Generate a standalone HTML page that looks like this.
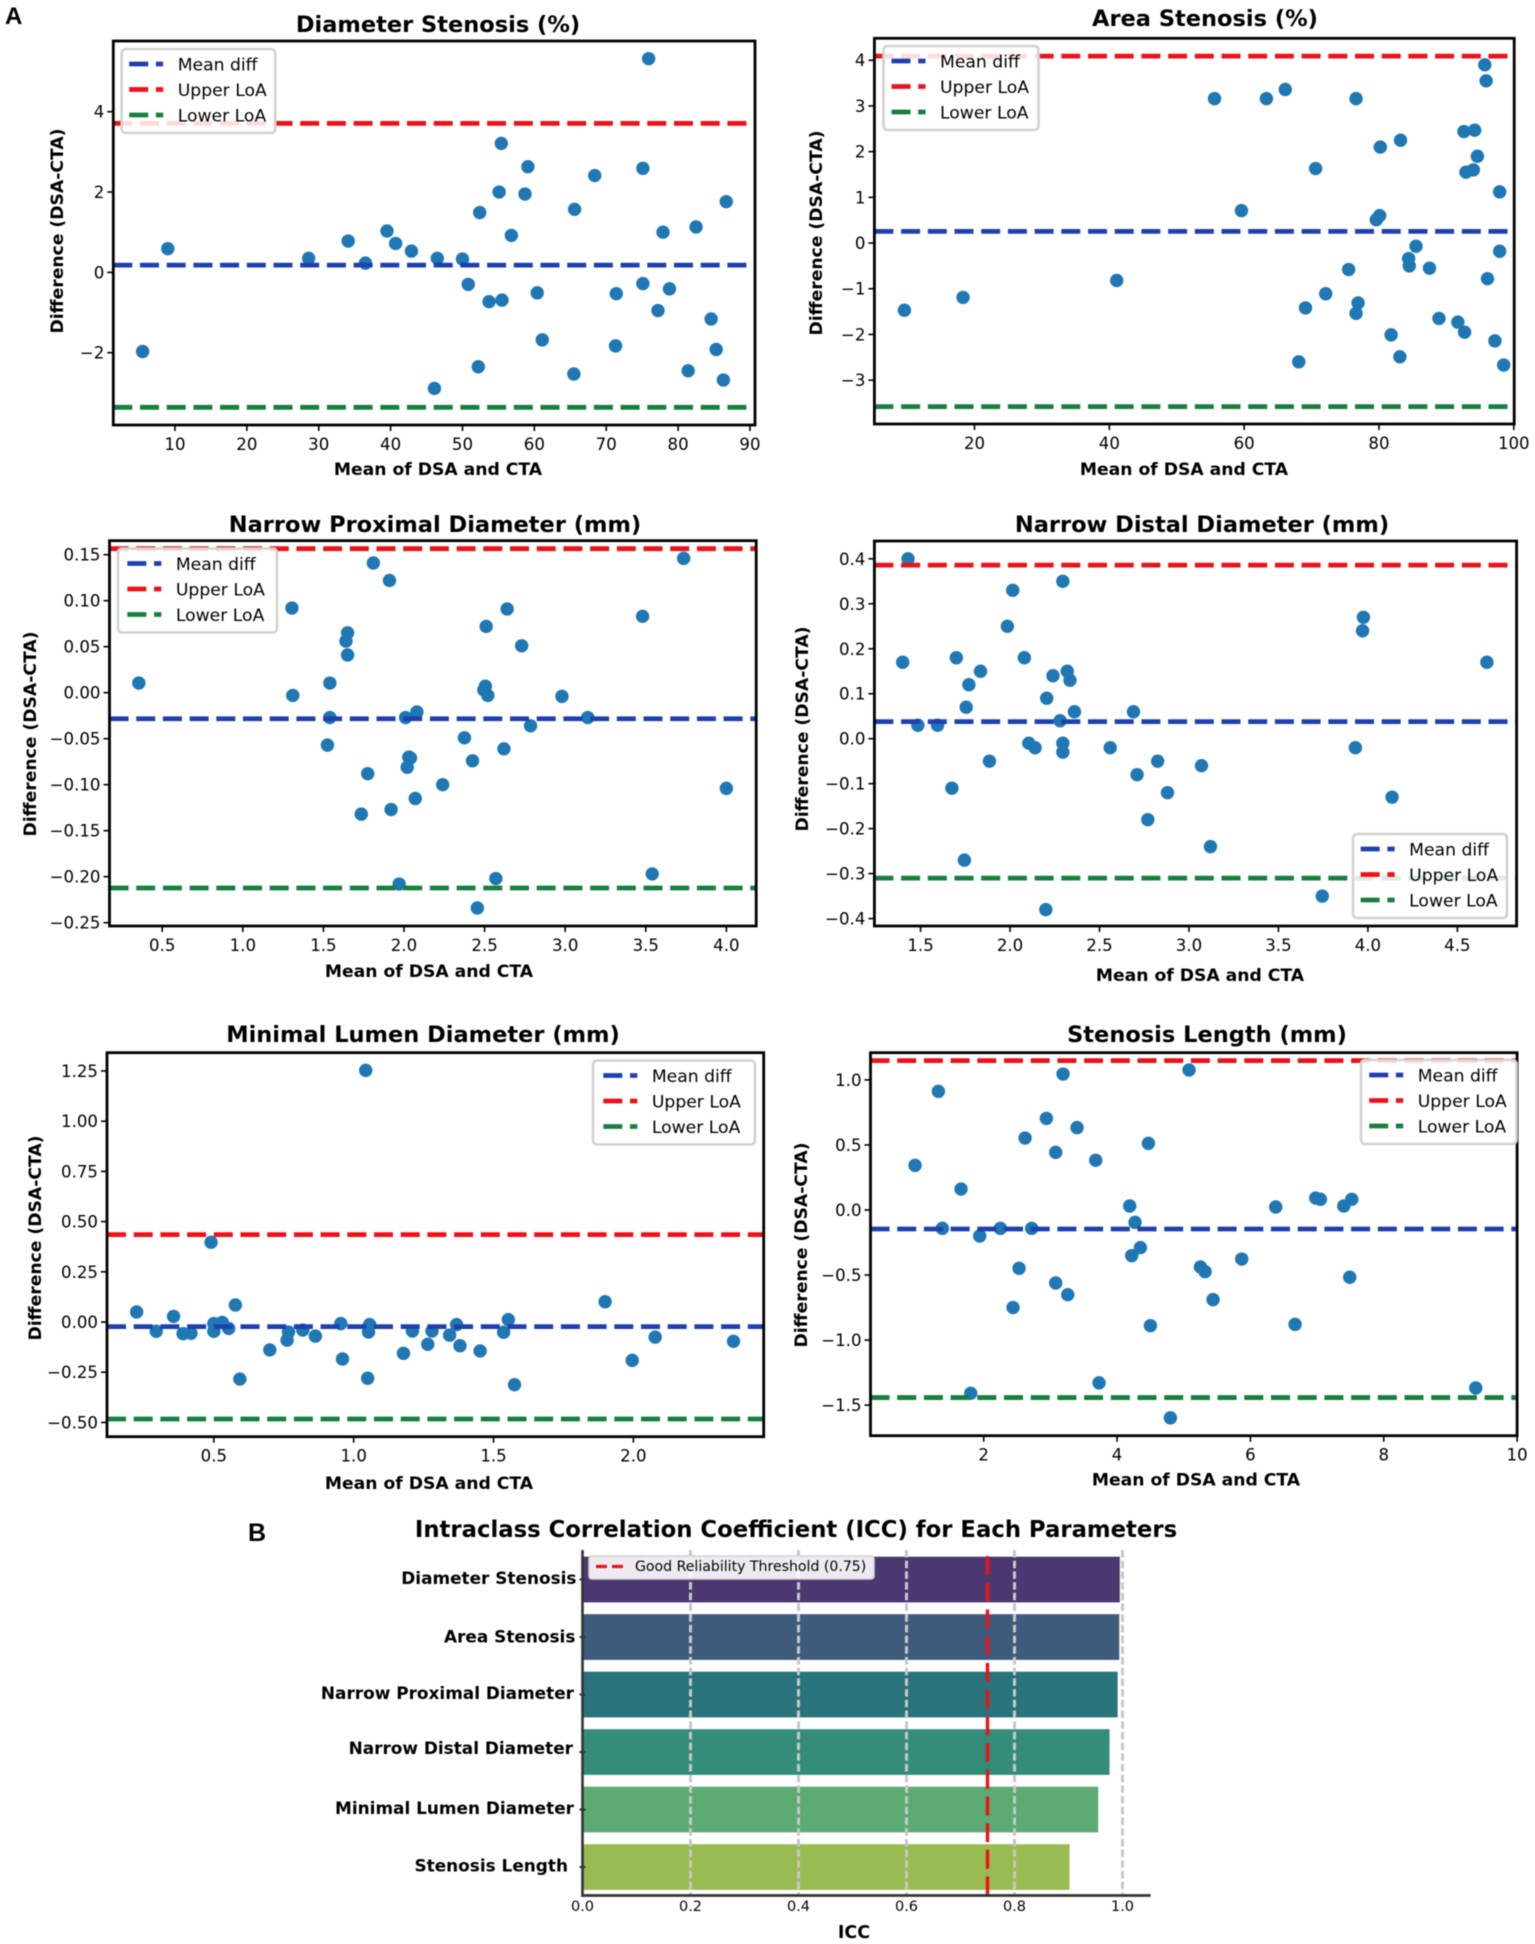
<!DOCTYPE html>
<html lang="en">
<head>
<meta charset="utf-8">
<title>Bland-Altman plots and ICC chart</title>
<style>
html,body{margin:0;padding:0;background:#fff;}
svg{display:block;filter:blur(0.4px);}
text{font-family:"DejaVu Sans","Liberation Sans",sans-serif;fill:#000;}
</style>
</head>
<body>
<svg id="figure" xmlns="http://www.w3.org/2000/svg" width="1535" height="1944" viewBox="0 0 1535 1944">
  <text x="5" y="24" style="font-family:'Liberation Sans',sans-serif;font-weight:700;font-size:24px">A</text>
  <text x="248" y="1541" style="font-family:'Liberation Sans',sans-serif;font-weight:700;font-size:25px">B</text>
</svg>
<script>
// ---------- Panel data ----------
const diameterMeans = [5.5,9.0,28.6,34.1,36.5,39.5,40.7,42.9,46.1,46.5,50.0,50.8,52.2,52.4,53.7,55.4,55.1,55.5,56.8,58.7,59.1,60.4,61.1,65.5,65.6,68.4,71.3,71.4,75.1,75.1,75.9,77.2,77.9,78.8,81.4,82.5,84.6,85.3,86.3,86.7];
const diameterDiffs = [-1.97,0.59,0.35,0.78,0.23,1.03,0.72,0.53,-2.89,0.35,0.33,-0.30,-2.35,1.49,-0.73,3.21,2.0,-0.69,0.92,1.95,2.63,-0.51,-1.68,-2.53,1.57,2.41,-1.83,-0.53,2.59,-0.28,5.32,-0.95,1.0,-0.41,-2.45,1.13,-1.16,-1.92,-2.68,1.76];
const diameterLoA = [0.18,3.71,-3.36];
const diameterXTicks = [10,20,30,40,50,60,70,80,90];
const diameterYTicks = [-2,0,2,4];

const areaMeans = [9.6,18.3,41.1,55.6,59.6,63.3,66.1,68.1,69.1,70.6,72.1,75.5,76.6,76.6,76.9,79.6,80.1,80.2,81.8,83.1,83.2,84.4,84.5,85.5,87.5,88.9,91.7,92.6,92.7,92.9,94.0,94.2,94.6,95.7,95.9,96.1,97.2,97.9,97.9,98.5];
const areaDiffs = [-1.47,-1.19,-0.82,3.16,0.71,3.16,3.36,-2.6,-1.42,1.63,-1.11,-0.58,3.16,-1.54,-1.31,0.51,0.6,2.1,-2.01,-2.49,2.25,-0.34,-0.5,-0.07,-0.55,-1.65,-1.73,2.44,-1.95,1.55,1.6,2.47,1.9,3.9,3.55,-0.78,-2.14,-0.18,1.12,-2.67];
const areaLoA = [0.255,4.09,-3.58];
const areaXTicks = [20,40,60,80,100];
const areaYTicks = [-3,-2,-1,0,1,2,3,4];

const proximalMeans = [0.355,1.305,1.31,1.54,1.54,1.525,1.65,1.64,1.65,1.81,1.91,1.775,1.735,1.92,1.97,2.01,2.08,2.04,2.03,2.02,2.07,2.24,2.375,2.425,2.455,2.495,2.505,2.51,2.52,2.57,2.62,2.64,2.73,2.785,2.98,3.14,3.48,3.54,3.735,4.0];
const proximalDiffs = [0.0105,0.092,-0.003,0.0105,-0.027,-0.057,0.065,0.056,0.041,0.141,0.122,-0.088,-0.132,-0.127,-0.208,-0.027,-0.021,-0.071,-0.07,-0.081,-0.115,-0.10,-0.049,-0.074,-0.234,0.003,0.007,0.072,-0.003,-0.202,-0.061,0.091,0.051,-0.036,-0.004,-0.027,0.083,-0.197,0.146,-0.104];
const proximalLoA = [-0.0283,0.1565,-0.2123];
const proximalXTicks = [0.5,1.0,1.5,2.0,2.5,3.0,3.5,4.0];
const proximalYTicks = [-0.25,-0.20,-0.15,-0.10,-0.05,0,0.05,0.10,0.15];

const distalMeans = [1.43,1.40,1.485,1.595,1.675,1.70,1.745,1.755,1.77,1.835,1.885,1.985,2.015,2.08,2.105,2.14,2.20,2.205,2.24,2.28,2.295,2.295,2.295,2.32,2.335,2.36,2.56,2.69,2.71,2.77,2.825,2.88,3.07,3.12,3.745,3.93,3.97,3.975,4.135,4.665];
const distalDiffs = [0.40,0.17,0.03,0.03,-0.11,0.18,-0.27,0.07,0.12,0.15,-0.05,0.25,0.33,0.18,-0.01,-0.02,-0.38,0.09,0.14,0.04,0.35,-0.01,-0.03,0.15,0.13,0.06,-0.02,0.06,-0.08,-0.18,-0.05,-0.12,-0.06,-0.24,-0.35,-0.02,0.24,0.27,-0.13,0.17];
const distalLoA = [0.038,0.386,-0.31];
const distalXTicks = [1.5,2.0,2.5,3.0,3.5,4.0,4.5];
const distalYTicks = [-0.4,-0.3,-0.2,-0.1,0,0.1,0.2,0.3,0.4];

const lumenMeans = [0.224,0.294,0.356,0.39,0.418,0.49,0.50,0.50,0.53,0.553,0.577,0.593,0.70,0.762,0.767,0.818,0.863,0.954,0.96,1.043,1.05,1.053,1.057,1.178,1.21,1.265,1.28,1.343,1.368,1.38,1.452,1.536,1.553,1.575,1.899,1.996,2.078,2.358];
const lumenDiffs = [0.05,-0.046,0.028,-0.058,-0.056,0.397,-0.046,-0.008,-0.002,-0.032,0.085,-0.284,-0.139,-0.09,-0.05,-0.04,-0.07,-0.008,-0.184,1.253,-0.28,-0.05,-0.013,-0.156,-0.045,-0.111,-0.045,-0.065,-0.013,-0.118,-0.144,-0.051,0.012,-0.312,0.101,-0.191,-0.075,-0.096];
const lumenLoA = [-0.023,0.435,-0.483];
const lumenXTicks = [0.5,1.0,1.5,2.0];
const lumenYTicks = [-0.50,-0.25,0,0.25,0.50,0.75,1.00,1.25];

const lengthMeans = [0.97,1.32,1.38,1.66,1.805,1.94,2.25,2.44,2.53,2.62,2.72,2.94,3.08,3.08,3.19,3.26,3.40,3.68,3.73,4.19,4.22,4.27,4.35,4.47,4.50,4.80,5.08,5.25,5.32,5.44,5.87,6.38,6.67,6.98,7.05,7.40,7.49,7.52,9.38];
const lengthDiffs = [0.343,0.912,-0.141,0.161,-1.409,-0.20,-0.141,-0.75,-0.448,0.553,-0.141,0.704,0.443,-0.561,1.045,-0.651,0.633,0.382,-1.329,0.031,-0.351,-0.095,-0.289,0.512,-0.889,-1.598,1.076,-0.438,-0.474,-0.689,-0.377,0.023,-0.879,0.092,0.082,0.031,-0.517,0.082,-1.368];
const lengthLoA = [-0.146,1.148,-1.442];
const lengthXTicks = [2,4,6,8,10];
const lengthYTicks = [-1.5,-1.0,-0.5,0,0.5,1.0];

const legendLabels = ['Mean diff','Upper LoA','Lower LoA'];

// ---------- ICC bar chart data ----------
const iccCategories = ['Diameter Stenosis','Area Stenosis','Narrow Proximal Diameter','Narrow Distal Diameter','Minimal Lumen Diameter','Stenosis Length'];
const iccValues = [0.995,0.994,0.991,0.976,0.955,0.902];
const iccTicks = [0,0.2,0.4,0.6,0.8,1.0];
const iccThreshold = [0.75];

// ---------- Layout ----------
const lineColors = ['#1e40af','#ee1119','#15803d'];
const barColors = ['#4b3870','#3e5b7c','#29737c','#338d79','#5bab72','#98bc52'];
const panels = [
  {id:'diameter-stenosis',title:'Diameter Stenosis (%)',xs:diameterMeans,ys:diameterDiffs,loa:diameterLoA,xTicks:diameterXTicks,yTicks:diameterYTicks,xDec:0,yDec:0,
   left:113.3,right:755,top:41,bottom:425,xMin:1.42,xMax:90.7,yMin:-3.80,yMax:5.76,titleX:438,titleY:32,xLabX:438,xLabY:475,yLabX:63,yLabY:231,legX:121.7,legY:49,legW:153.5,legH:84},
  {id:'area-stenosis',title:'Area Stenosis (%)',xs:areaMeans,ys:areaDiffs,loa:areaLoA,xTicks:areaXTicks,yTicks:areaYTicks,xDec:0,yDec:0,
   left:874.4,right:1514.2,top:38.3,bottom:424,xMin:5.15,xMax:100.06,yMin:-3.96,yMax:4.48,titleX:1205,titleY:26,xLabX:1184,xLabY:475,yLabX:822,yLabY:233,legX:883.5,legY:46,legW:155,legH:84},
  {id:'narrow-proximal-diameter',title:'Narrow Proximal Diameter (mm)',xs:proximalMeans,ys:proximalDiffs,loa:proximalLoA,xTicks:proximalXTicks,yTicks:proximalYTicks,xDec:1,yDec:2,
   left:109.5,right:756.2,top:540.7,bottom:926,xMin:0.173,xMax:4.185,yMin:-0.2536,yMax:0.1652,titleX:435,titleY:532,xLabX:429,xLabY:977,yLabX:36,yLabY:734,legX:118,legY:548.5,legW:159,legH:84},
  {id:'narrow-distal-diameter',title:'Narrow Distal Diameter (mm)',xs:distalMeans,ys:distalDiffs,loa:distalLoA,xTicks:distalXTicks,yTicks:distalYTicks,xDec:1,yDec:1,
   left:874.4,right:1516.6,top:541,bottom:926,xMin:1.242,xMax:4.831,yMin:-0.4165,yMax:0.4396,titleX:1202,titleY:532,xLabX:1200,xLabY:981,yLabX:808,yLabY:729,legX:1353,legY:834,legW:154,legH:84},
  {id:'minimal-lumen-diameter',title:'Minimal Lumen Diameter (mm)',xs:lumenMeans,ys:lumenDiffs,loa:lumenLoA,xTicks:lumenXTicks,yTicks:lumenYTicks,xDec:1,yDec:2,
   left:107,right:763.7,top:1052.7,bottom:1436.7,xMin:0.118,xMax:2.466,yMin:-0.571,yMax:1.341,titleX:423,titleY:1042,xLabX:429,xLabY:1489,yLabX:41,yLabY:1238,legX:593,legY:1060.5,legW:162,legH:84},
  {id:'stenosis-length',title:'Stenosis Length (mm)',xs:lengthMeans,ys:lengthDiffs,loa:lengthLoA,xTicks:lengthXTicks,yTicks:lengthYTicks,xDec:0,yDec:1,
   left:870.5,right:1517.1,top:1052.7,bottom:1435.7,xMin:0.302,xMax:10,yMin:-1.735,yMax:1.209,titleX:1207,titleY:1042,xLabX:1196,xLabY:1485.5,yLabX:807,yLabY:1245,legX:1361,legY:1060,legW:155.6,legH:84}
];

const NS = 'http://www.w3.org/2000/svg';
const figure = document.getElementById('figure');

function make(parent, tag, attrs, content) {
  const node = document.createElementNS(NS, tag);
  for (const key in attrs) node.setAttribute(key, attrs[key]);
  if (content !== undefined) node.textContent = content;
  parent.appendChild(node);
  return node;
}
function fmt(v, dec) {
  return v.toFixed(dec).replace('-', '\u2212');
}

function drawPanel(p) {
  const xScale = v => p.left + (v - p.xMin) / (p.xMax - p.xMin) * (p.right - p.left);
  const yScale = v => p.bottom - (v - p.yMin) / (p.yMax - p.yMin) * (p.bottom - p.top);

  const g = make(figure, 'g', {});
  
  

  const title = make(g, 'text', {x:p.titleX, y:p.titleY, 'text-anchor':'middle', 'font-weight':'700', 'font-size':'22.5'}, p.title);
  
  

  const clipId = 'clip-' + p.id;
  const defs = make(g, 'defs', {});
  const clip = make(defs, 'clipPath', {id:clipId});
  make(clip, 'rect', {x:p.left, y:p.top, width:p.right - p.left, height:p.bottom - p.top});

  p.xs.forEach((xv, i) => {
    const dot = make(g, 'circle', {cx:xScale(xv), cy:yScale(p.ys[i]), r:6.7, fill:'#1f77b4'});
    
    
  });

  p.loa.forEach((value, i) => {
    const line = make(g, 'line', {x1:p.left, x2:p.right, y1:yScale(value), y2:yScale(value), stroke:lineColors[i], 'stroke-width':4.8, 'stroke-dasharray':'19 7.7', 'clip-path':'url(#' + clipId + ')'});
    
    
  });

  const frame = make(g, 'rect', {x:p.left, y:p.top, width:p.right - p.left, height:p.bottom - p.top, fill:'none', stroke:'#000', 'stroke-width':2.8});
  
  

  p.xTicks.forEach(t => {
    const px = xScale(t);
    const mark = make(g, 'line', {x1:px, x2:px, y1:p.bottom, y2:p.bottom + 6, stroke:'#000', 'stroke-width':1.6});
    
    
    const label = make(g, 'text', {x:px, y:p.bottom + 25, 'text-anchor':'middle', 'font-size':'16.6'}, fmt(t, p.xDec));
    
    
  });
  p.yTicks.forEach(t => {
    const py = yScale(t);
    const mark = make(g, 'line', {x1:p.left - 6, x2:p.left, y1:py, y2:py, stroke:'#000', 'stroke-width':1.6});
    
    
    const label = make(g, 'text', {x:p.left - 9, y:py + 6, 'text-anchor':'end', 'font-size':'16.6'}, fmt(t, p.yDec));
    
    
  });

  const xTitle = make(g, 'text', {x:p.xLabX, y:p.xLabY, 'text-anchor':'middle', 'font-weight':'700', 'font-size':'17.2'}, 'Mean of DSA and CTA');
  
  
  const yTitle = make(g, 'text', {transform:'translate(' + p.yLabX + ' ' + p.yLabY + ') rotate(-90)', 'text-anchor':'middle', 'font-weight':'700', 'font-size':'17.2'}, 'Difference (DSA-CTA)');
  
  

  const legend = make(g, 'g', {transform:'translate(' + p.legX + ' ' + p.legY + ')'});
  
  
  make(legend, 'rect', {x:0, y:p.legY % 1 === 0 ? 0 : 0, width:p.legW, height:p.legH, rx:4, fill:'#fff', 'fill-opacity':0.85, stroke:'#d2d2d2', 'stroke-width':2.6});
  const inset = (p.legW - 153.5) / 3;
  legendLabels.forEach((name, i) => {
    const rowY = 15 + i * 25.5;
    const handle = make(legend, 'line', {x1:7.5 + inset, x2:41.5 + inset, y1:rowY, y2:rowY, stroke:lineColors[i], 'stroke-width':4.8, 'stroke-dasharray':'19 7.7'});
    
    
    const text = make(legend, 'text', {x:56 + inset, y:rowY + 6.3, 'font-size':'17.2', fill:'#111'}, name);
    
    
  });
}
panels.forEach(drawPanel);

function drawIcc() {
  const box = {left:582.5, unit:540, top:1550, axisY:1895.5, right:1150.6, firstBar:1556.7, barStep:57.5, barH:45.7};
  const labelRight = [576.5,575.4,574,573,574,568];
  const labelShift = [-1.2,0,-1.2,-3.7,-1.2,-1.2];
  const xScale = v => box.left + v * box.unit;

  const g = make(figure, 'g', {});
  
  

  const title = make(g, 'text', {x:796, y:1537, 'text-anchor':'middle', 'font-weight':'700', 'font-size':'22.75'}, 'Intraclass Correlation Coefficient (ICC) for Each Parameters');
  
  

  iccValues.forEach((value, i) => {
    const barY = box.firstBar + i * box.barStep;
    const bar = make(g, 'rect', {x:box.left, y:barY, width:xScale(value) - box.left, height:box.barH, fill:barColors[i]});
    
    
    const label = make(g, 'text', {x:labelRight[i], y:barY + box.barH / 2 + 5.5 + labelShift[i], 'text-anchor':'end', 'font-weight':'700', 'font-size':'16.9'}, iccCategories[i]);
    
    
    const mark = make(g, 'line', {x1:box.left - 3, x2:box.left + 3, y1:barY + box.barH / 2, y2:barY + box.barH / 2, stroke:'#333', 'stroke-width':2});
    
    
  });

  iccTicks.forEach(t => {
    const px = xScale(t);
    if (t > 0) {
      const grid = make(g, 'line', {x1:px, x2:px, y1:box.top, y2:box.axisY, stroke:'#c8c8c8', 'stroke-width':3, 'stroke-dasharray':'7.5 3.2'});
      
      
    }
    const label = make(g, 'text', {x:px, y:1911, 'text-anchor':'middle', 'font-size':'14.5', fill:'#333'}, t.toFixed(1));
    
    
  });

  const threshold = make(g, 'line', {x1:xScale(iccThreshold[0]), x2:xScale(iccThreshold[0]), y1:box.axisY, y2:box.top, stroke:'#ee1119', 'stroke-width':3.4, 'stroke-dasharray':'19 7.7'});
  
  

  const yAxis = make(g, 'line', {x1:box.left, x2:box.left, y1:box.top, y2:box.axisY + 1.5, stroke:'#333', 'stroke-width':2.6});
  
  
  const xAxis = make(g, 'line', {x1:box.left, x2:box.right, y1:box.axisY, y2:box.axisY, stroke:'#333', 'stroke-width':2.8});
  
  

  const xTitle = make(g, 'text', {x:854, y:1938, 'text-anchor':'middle', 'font-weight':'700', 'font-size':'17.5'}, 'ICC');
  
  

  const legend = make(g, 'g', {});
  
  
  make(legend, 'rect', {x:589, y:1556, width:285, height:23, rx:3, fill:'#fff', 'fill-opacity':0.9, stroke:'#d2d2d2', 'stroke-width':1.6});
  const handle = make(legend, 'line', {x1:596, x2:625, y1:1566.5, y2:1566.5, stroke:'#ee1119', 'stroke-width':3.2, 'stroke-dasharray':'11 5'});
  
  
  const text = make(legend, 'text', {x:635, y:1571, 'font-size':'14.1', fill:'#555'}, 'Good Reliability Threshold (0.75)');
  
  
}
drawIcc();
</script>
</body>
</html>
